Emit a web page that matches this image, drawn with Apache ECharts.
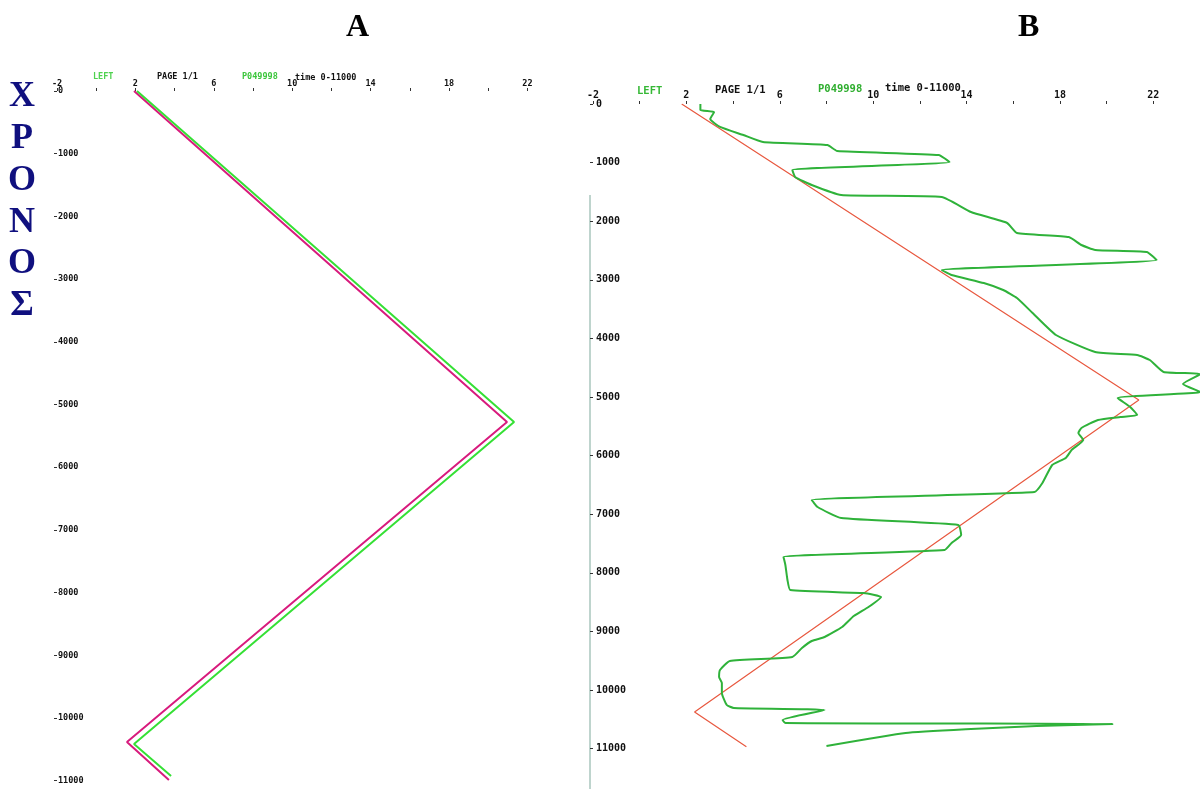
<!DOCTYPE html>
<html>
<head>
<meta charset="utf-8">
<script src="https://cdn.jsdelivr.net/npm/echarts@6/dist/echarts.min.js"></script>
<style>
html,body{margin:0;padding:0;background:#fff;}
#chart{width:1200px;height:789px;}
</style>
</head>
<body>
<div id="chart"></div>
<script>
// ---- data ----
const xTickValues = [-2, 2, 6, 10, 14, 18, 22];
const yTickValues = [0, 1000, 2000, 3000, 4000, 5000, 6000, 7000, 8000, 9000, 10000, 11000];

// Panel A
const aGreenX   = [2.08, 21.32, 1.93, 3.82];
const aGreenY   = [0, 5279, 10415, 10925];
const aMagentaX = [1.93, 20.96, 1.57, 3.71];
const aMagentaY = [0, 5279, 10383, 10989];

// Panel B
const bRedX = [1.8, 21.38, 2.35, 4.57];
const bRedY = [0, 5051, 10375, 10970];
const bGreenX = [2.60, 2.60, 3.19, 3.02, 3.44, 4.44, 5.28, 8.04, 8.46, 12.81, 13.27, 6.54, 6.66, 7.37, 8.63,
  12.94, 14.19, 15.74, 16.16, 18.38, 18.92, 19.51, 21.72, 22.14, 12.94, 13.36, 14.74, 15.57, 16.16, 16.83,
  17.83, 19.51, 21.31, 21.85, 22.44, 24.03, 23.27, 24.03, 20.47, 21.01, 21.31, 20.59, 19.63, 18.92, 18.79,
  19.0, 18.50, 18.25, 17.67, 17.25, 16.91, 7.37, 7.62, 8.63, 13.65, 13.77, 13.36, 13.06, 6.16, 6.24,
  6.33, 6.45, 9.59, 10.34, 9.80, 9.17, 8.67, 7.92, 7.37, 6.95, 6.54, 3.86, 3.44, 3.40, 3.52,
  3.52, 3.73, 4.03, 7.92, 6.12, 6.24, 20.26, 17.0, 14.19, 11.39, 8.0];
const bGreenY = [0, 102, 137, 256, 392, 529, 648, 700, 802, 870, 990, 1126, 1246, 1382, 1553,
  1587, 1843, 2031, 2201, 2270, 2406, 2491, 2526, 2662, 2833, 2918, 3055, 3174, 3311, 3567,
  3942, 4232, 4283, 4369, 4573, 4608, 4778, 4915, 5017, 5171, 5307, 5341, 5392, 5529, 5614,
  5734, 5904, 6041, 6160, 6468, 6621, 6758, 6877, 7065, 7184, 7355, 7491, 7611, 7730, 7867,
  8123, 8294, 8345, 8413, 8584, 8737, 8925, 9096, 9164, 9283, 9437, 9505, 9659, 9778, 9881,
  10051, 10256, 10307, 10341, 10512, 10563, 10580, 10614, 10666, 10734, 10956];

const headerTexts = ['LEFT', 'PAGE 1/1', 'P049998', 'time 0-11000'];
const yTitle = 'ΧΡΟΝΟΣ';

// ---- build ----
const zip = (xs, ys) => xs.map((x, i) => [x, ys[i]]);
const mono = '"DejaVu Sans Mono", "Liberation Mono", monospace';

function xAxisCfg(gi, fs, margin) {
  return {
    gridIndex: gi, type: 'value', position: 'top', min: -2, max: 24, interval: 2,
    axisLine: { show: false, onZero: false },
    axisTick: { show: true, length: 3, lineStyle: { color: '#333', width: 1 } },
    axisLabel: {
      margin: margin, fontSize: fs, fontWeight: 'bold', fontFamily: mono, color: '#111',
      showMaxLabel: false,
      formatter: v => xTickValues.indexOf(v) >= 0 ? String(v) : ''
    },
    splitLine: { show: false }
  };
}
function yAxisCfg(gi, fs, margin) {
  return {
    gridIndex: gi, type: 'value', position: 'left', inverse: true, min: 0, max: 11000, interval: 1000,
    axisLine: { show: false, onZero: false },
    axisTick: { show: true, length: 3, lineStyle: { color: '#333', width: 1 } },
    axisLabel: {
      inside: true, margin: margin, fontSize: fs, fontWeight: 'bold', fontFamily: mono, color: '#111',
      formatter: v => yTickValues.indexOf(v) >= 0 ? String(v) : ''
    },
    splitLine: { show: false }
  };
}

const lineBase = { type: 'line', showSymbol: false, symbol: 'none', clip: true, animation: false };

const option = {
  backgroundColor: '#ffffff',
  animation: false,
  grid: [
    { left: 57, top: 91, width: 509.6, height: 689.7 },
    { left: 593, top: 104, width: 621.4, height: 644.6 }
  ],
  xAxis: [xAxisCfg(0, 8.5, 3), xAxisCfg(1, 10, 4)],
  yAxis: [yAxisCfg(0, 8.5, 1), yAxisCfg(1, 10, 3)],
  series: [
    Object.assign({}, lineBase, { name: 'A magenta', xAxisIndex: 0, yAxisIndex: 0, data: zip(aMagentaX, aMagentaY),
      lineStyle: { color: '#d81b7d', width: 2 } }),
    Object.assign({}, lineBase, { name: 'A green', xAxisIndex: 0, yAxisIndex: 0, data: zip(aGreenX, aGreenY),
      lineStyle: { color: '#35e035', width: 2 } }),
    Object.assign({}, lineBase, { name: 'B red', xAxisIndex: 1, yAxisIndex: 1, data: zip(bRedX, bRedY),
      lineStyle: { color: '#e8583f', width: 1.2 } }),
    Object.assign({}, lineBase, { name: 'B green', xAxisIndex: 1, yAxisIndex: 1, data: zip(bGreenX, bGreenY),
      smooth: 0.15, lineStyle: { color: '#2fb23a', width: 2 } })
  ],
  graphic: [
    { type: 'text', left: 346, top: 12, style: { text: 'A', font: 'bold 32px "Liberation Serif", "DejaVu Serif", serif', fill: '#000' } },
    { type: 'text', left: 1018, top: 12, style: { text: 'B', font: 'bold 32px "Liberation Serif", "DejaVu Serif", serif', fill: '#000' } },
    { type: 'text', x: 22, y: 76, style: { text: yTitle.split('').join('\n'), font: 'bold 36px "Liberation Serif", "DejaVu Serif", serif',
      fill: '#10107f', align: 'center', verticalAlign: 'top', lineHeight: 41.8 } },
    // panel A header
    { type: 'text', x: 93, y: 77, style: { text: headerTexts[0], font: 'bold 8.5px ' + mono, fill: '#4fd24f', verticalAlign: 'middle' } },
    { type: 'text', x: 157, y: 77, style: { text: headerTexts[1], font: 'bold 8.5px ' + mono, fill: '#111', verticalAlign: 'middle' } },
    { type: 'text', x: 242, y: 77, style: { text: headerTexts[2], font: 'bold 8.5px ' + mono, fill: '#3cc63c', verticalAlign: 'middle' } },
    { type: 'text', x: 295, y: 78, style: { text: headerTexts[3], font: 'bold 8.5px ' + mono, fill: '#111', verticalAlign: 'middle' } },
    // panel B header
    { type: 'text', x: 637, y: 91, style: { text: headerTexts[0], font: 'bold 10.5px ' + mono, fill: '#36b836', verticalAlign: 'middle' } },
    { type: 'text', x: 715, y: 90, style: { text: headerTexts[1], font: 'bold 10.5px ' + mono, fill: '#111', verticalAlign: 'middle' } },
    { type: 'text', x: 818, y: 89, style: { text: headerTexts[2], font: 'bold 10.5px ' + mono, fill: '#2fae2f', verticalAlign: 'middle' } },
    { type: 'text', x: 885, y: 88, style: { text: headerTexts[3], font: 'bold 10.5px ' + mono, fill: '#111', verticalAlign: 'middle' } },
    // scan border line between panels
    { type: 'line', shape: { x1: 590, y1: 195, x2: 590, y2: 789 }, style: { stroke: '#7fa99c', lineWidth: 1 } }
  ]
};

const chart = echarts.init(document.getElementById('chart'), null, { renderer: 'canvas' });
chart.setOption(option);
</script>
</body>
</html>
